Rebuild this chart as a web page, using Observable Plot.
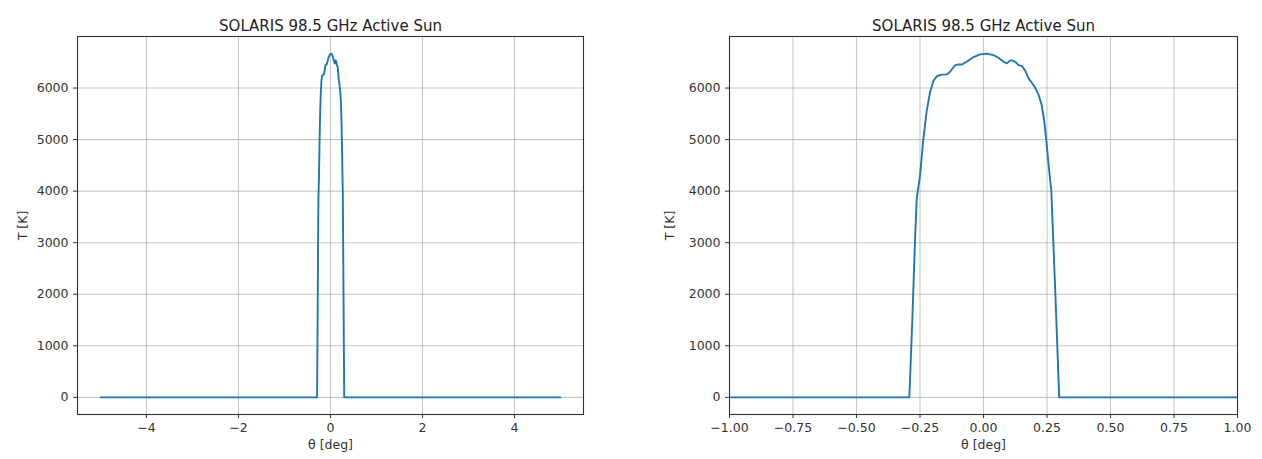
<!DOCTYPE html>
<html>
<head>
<meta charset="utf-8">
<script src="https://cdn.jsdelivr.net/npm/d3@7"></script>
<script src="https://cdn.jsdelivr.net/npm/@observablehq/plot@0.6"></script>
<style>
  html, body { margin: 0; padding: 0; background: #fff; }
  #wrap { position: relative; width: 1262px; height: 459px; overflow: hidden; }
  #wrap > svg { position: absolute; top: 0; }
</style>
</head>
<body>
<div id="wrap"></div>
<script>
// Brightness-temperature scan across the active Sun at 98.5 GHz
const theta = [
  -5, -0.292, -0.281, -0.270, -0.263, -0.250, -0.237, -0.224, -0.211, -0.198,
  -0.184, -0.165, -0.144, -0.135, -0.125, -0.112, -0.099, -0.085, -0.066, -0.039,
  -0.013, 0.013, 0.039, 0.059, 0.079, 0.092, 0.105, 0.112, 0.125, 0.138,
  0.152, 0.165, 0.178, 0.191, 0.204, 0.217, 0.230, 0.2395, 0.247, 0.2566,
  0.267, 0.283, 0.298, 5
];
const temperature = [
  0, 0, 1400, 3000, 3850, 4300, 5000, 5542, 5902, 6131,
  6229, 6261, 6265, 6300, 6360, 6440, 6458, 6457, 6510, 6601,
  6654, 6667, 6640, 6588, 6510, 6478, 6536, 6536, 6510, 6444,
  6425, 6327, 6183, 6098, 6000, 5869, 5650, 5346, 5000, 4497,
  4000, 2000, 0, 0
];

const titleText = "SOLARIS 98.5 GHz Active Sun";
const xLabel = "θ [deg]";
const yLabel = "T [K]";
const yTicks = [0, 1000, 2000, 3000, 4000, 5000, 6000];
const wideTicks = [-4, -2, 0, 2, 4];
const zoomTicks = [-1, -0.75, -0.5, -0.25, 0, 0.25, 0.5, 0.75, 1];

const profile = theta.map((t, i) => ({theta: t, T: temperature[i]}));

function panel({left, width, marginLeft, marginRight, xDomain, xTicks, xFormat, yLabelDx}) {
  const chart = Plot.plot({
    width,
    height: 459,
    marginTop: 36,
    marginBottom: 45,
    marginLeft,
    marginRight,
    style: {fontFamily: "'DejaVu Sans', sans-serif", fontSize: "12.5px", color: "#333", background: "white"},
    x: {domain: xDomain},
    y: {domain: [-333, 7000]},
    marks: [
      Plot.gridX(xTicks, {stroke: "#b0b0b0", strokeOpacity: 0.7, strokeWidth: 1.1}),
      Plot.gridY(yTicks, {stroke: "#b0b0b0", strokeOpacity: 0.7, strokeWidth: 1.1}),
      Plot.line(profile, {x: "theta", y: "T", stroke: "#1f77b4", strokeWidth: 1.9, clip: true}),
      Plot.frame({stroke: "#333", strokeWidth: 1.1}),
      Plot.axisX(xTicks, {tickSize: 4, tickPadding: 5, tickFormat: xFormat, label: null, stroke: "#333"}),
      Plot.axisY(yTicks, {tickSize: 4, tickPadding: 5, tickFormat: d3.format("d"), label: null, stroke: "#333"}),
      Plot.text([xLabel], {frameAnchor: "bottom", dy: 34, fontSize: 12.5, fill: "#333"}),
      Plot.text([yLabel], {frameAnchor: "left", dx: yLabelDx, rotate: -90, textAnchor: "middle", fontSize: 12.5, fill: "#333"}),
      Plot.text([titleText], {frameAnchor: "top", dy: -16, fontSize: 15, fill: "#222"})
    ]
  });
  chart.style.left = left + "px";
  document.getElementById("wrap").appendChild(chart);
}

// full scan
panel({
  left: 0, width: 620, marginLeft: 77, marginRight: 37,
  xDomain: [-5.5, 5.5], xTicks: wideTicks, xFormat: d3.format("d"), yLabelDx: -55
});

// close-up of the disc
panel({
  left: 640, width: 622, marginLeft: 89, marginRight: 25,
  xDomain: [-1, 1], xTicks: zoomTicks, xFormat: d3.format(".2f"), yLabelDx: -60
});
</script>
</body>
</html>
